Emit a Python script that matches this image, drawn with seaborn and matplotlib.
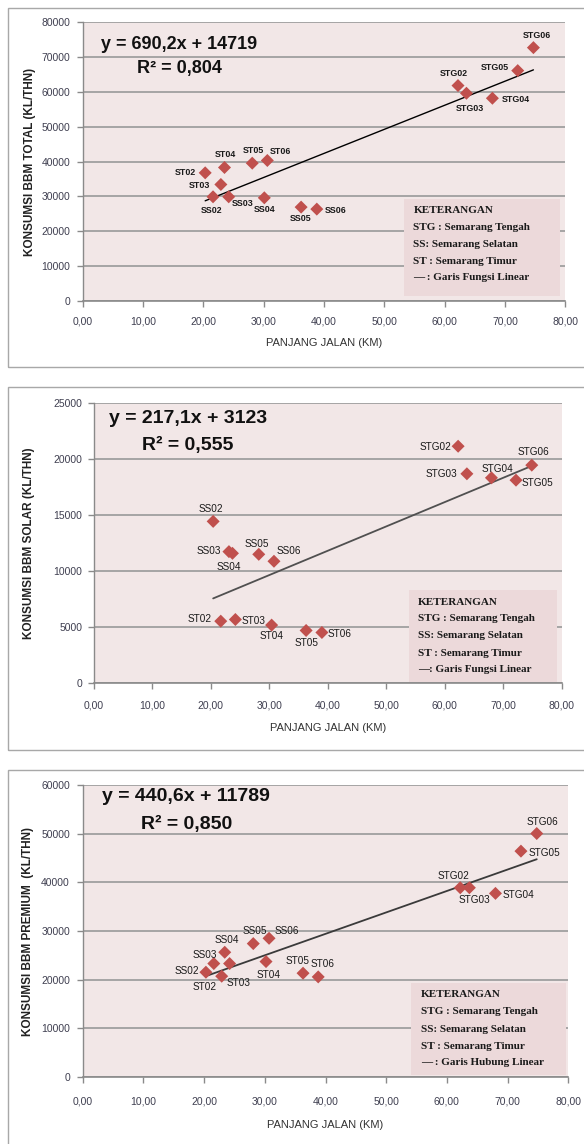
import matplotlib
matplotlib.use("Agg")
import matplotlib.pyplot as plt
from matplotlib import font_manager
from matplotlib.patches import Rectangle
from matplotlib.ticker import FuncFormatter, MultipleLocator
import seaborn as sns
import pandas as pd

# ---------------- data ----------------
# Panel 1: KONSUMSI BBM TOTAL
total_labels = ["ST02", "SS02", "ST03", "ST04", "SS03", "ST05", "SS04", "ST06",
                "SS05", "SS06", "STG02", "STG03", "STG04", "STG05", "STG06"]
total_x = [20.3, 21.6, 22.9, 23.5, 24.2, 28.1, 30.1, 30.6, 36.2, 38.8,
           62.2, 63.6, 67.9, 72.1, 74.7]
total_y = [36750, 29880, 33410, 38280, 29880, 39520, 29590, 40290, 26920, 26350,
           61770, 59570, 58140, 66060, 72650]
total_fit = (690.2, 14719, "0,804")

# Panel 2: KONSUMSI BBM SOLAR
solar_labels = ["SS02", "ST02", "SS03", "SS04", "ST03", "SS05", "ST04", "SS06",
                "ST05", "ST06", "STG02", "STG03", "STG04", "STG05", "STG06"]
solar_x = [20.4, 21.7, 23.1, 23.7, 24.2, 28.2, 30.4, 30.8, 36.3, 39.0,
           62.3, 63.8, 68.0, 72.2, 74.9]
solar_y = [14430, 5520, 11730, 11580, 5670, 11490, 5170, 10870, 4690, 4510,
           21140, 18680, 18320, 18110, 19450]
solar_fit = (217.1, 3123, "0,555")

# Panel 3: KONSUMSI BBM PREMIUM
premium_labels = ["SS02", "SS03", "ST02", "SS04", "ST03", "SS05", "ST04", "SS06",
                  "ST05", "ST06", "STG02", "STG03", "STG04", "STG05", "STG06"]
premium_x = [20.3, 21.6, 22.9, 23.4, 24.2, 28.1, 30.2, 30.7, 36.3, 38.8,
             62.2, 63.7, 68.0, 72.2, 74.8]
premium_y = [21530, 23310, 20710, 25630, 23310, 27410, 23720, 28500, 21330, 20570,
             38890, 38890, 37730, 46410, 50030]
premium_fit = (440.6, 11789, "0,850")

y_titles = ["KONSUMSI BBM TOTAL (KL/THN)", "KONSUMSI BBM SOLAR (KL/THN)",
            "KONSUMSI BBM PREMIUM  (KL/THN)"]
x_title = "PANJANG JALAN (KM)"
y_max = [80000, 25000, 60000]
y_step = [10000, 5000, 10000]
legend_lines = [
    ["KETERANGAN", "STG : Semarang Tengah", "SS: Semarang Selatan",
     "ST : Semarang Timur", "— : Garis Fungsi Linear"],
    ["KETERANGAN", "STG : Semarang Tengah", "SS: Semarang Selatan",
     "ST : Semarang Timur", "—: Garis Fungsi Linear"],
    ["KETERANGAN", "STG : Semarang Tengah", "SS: Semarang Selatan",
     "ST : Semarang Timur", "— : Garis Hubung Linear"],
]

# ---------------- label placement (offsets in pixels) ----------------
off1 = {"STG06": (3, 12), "STG05": (-23, 3), "STG02": (-4, 12), "STG04": (23, -1),
        "STG03": (3, -15), "ST04": (1, 13), "ST05": (1, 13), "ST06": (13, 9),
        "ST02": (-20, 0), "ST03": (-21, -1), "SS02": (-1, -14), "SS03": (14, -7),
        "SS04": (0, -12), "SS05": (-1, -11), "SS06": (19, -1)}
off2 = {"STG02": (-23, -1), "STG06": (2, 13), "STG03": (-25, 0), "STG04": (6, 9),
        "STG05": (21, -3), "SS02": (-2, 12), "SS03": (-20, 1), "SS04": (-4, -14),
        "SS05": (-2, 10), "SS06": (15, 10), "ST02": (-21, 2), "ST03": (18, -2),
        "ST04": (0, -11), "ST05": (0, -13), "ST06": (18, -2)}
off3 = {"STG06": (6, 12), "STG05": (23, -2), "STG02": (-7, 12), "STG03": (5, -12),
        "STG04": (23, -2), "SS06": (18, 7), "SS05": (2, 13), "SS04": (2, 12),
        "SS03": (-9, 9), "SS02": (-19, 1), "ST02": (-17, -11), "ST03": (9, -19),
        "ST04": (3, -13), "ST05": (-5, 12), "ST06": (4, 13)}

# ---------------- style ----------------
sns.set_theme(style="ticks")
plt.rcParams["font.family"] = ["Liberation Sans", "DejaVu Sans"]

names = {f.name for f in font_manager.fontManager.ttflist}
if "Liberation Sans Narrow" in names:
    lab_font, lab_size = "Liberation Sans Narrow", 8.6
else:
    lab_font, lab_size = "Liberation Sans", 7.2

W, H = 584, 1144
fig = plt.figure(figsize=(W / 100, H / 100), dpi=100)
fig.patch.set_facecolor("white")

plot_bg = "#f2e7e7"
legend_bg = "#ecd9da"
marker_col = "#c0504d"
tick_col = "#3f3f50"
grid_col = "#a0a0a0"

# axes rectangles in pixels: left, right, top, bottom
ax_px = [(82.7, 565.4, 22, 301), (93.9, 561.6, 403, 683), (82.7, 568.3, 785, 1077)]
frames = [(7.8, 8, 367), (7.8, 387, 750), (7.8, 770, 1160)]
ylab_x = [-0.110, -0.139, -0.113]
xlab_y = [-0.151, -0.161, -0.164]
xpad = [6.8, 8.3, 9.7]
ypad = [4.8, 4.3, 5.2]
eq_pos = [((0.037, 0.921), (0.112, 0.835)), ((0.032, 0.943), (0.103, 0.850)),
          ((0.039, 0.959), (0.120, 0.866))]
eq_size = [13, 14, 14]
leg_box = [(0.666, 0.988, 0.018, 0.366), (0.674, 0.990, 0.004, 0.332),
           (0.676, 0.995, 0.007, 0.322)]
leg_tx = [0.685, 0.693, 0.696]
leg_ty = [[0.323, 0.262, 0.204, 0.143, 0.086],
          [0.289, 0.229, 0.168, 0.107, 0.050],
          [0.284, 0.223, 0.164, 0.106, 0.048]]
line_style = [("#000000", 1.0), ("#505050", 1.3), ("#3a3a3a", 1.3)]

panels = [
    (total_labels, total_x, total_y, total_fit, off1),
    (solar_labels, solar_x, solar_y, solar_fit, off2),
    (premium_labels, premium_x, premium_y, premium_fit, off3),
]

for i, (labels, xs, ys, fit, offs) in enumerate(panels):
    # outer frame
    fx, ftop, fbot = frames[i]
    fig.add_artist(Rectangle((fx / W, 1 - fbot / H), (W + 20 - fx) / W, (fbot - ftop) / H,
                             transform=fig.transFigure, fill=False,
                             edgecolor="#a8a8a8", lw=1.0))
    l, r, t, b = ax_px[i]
    ax = fig.add_axes([l / W, 1 - b / H, (r - l) / W, (b - t) / H])
    ax.set_facecolor(plot_bg)
    df = pd.DataFrame({"x": xs, "y": ys, "label": labels})

    # trend line from the regression equation
    slope, intercept, r2 = fit
    xline = [min(xs), max(xs)]
    yline = [slope * v + intercept for v in xline]
    col, lw = line_style[i]
    sns.lineplot(x=xline, y=yline, ax=ax, color=col, lw=lw, zorder=4)

    sns.scatterplot(data=df, x="x", y="y", ax=ax, marker="D", s=44,
                    color=marker_col, edgecolor="none", linewidth=0, zorder=5)

    for lab, xv, yv in zip(labels, xs, ys):
        dx, dy = offs[lab]
        if i == 0:
            ax.annotate(lab, (xv, yv), xytext=(dx, dy), textcoords="offset pixels",
                        ha="center", va="center", fontsize=6.4, fontweight="bold",
                        color="#1a1a1a", family="Liberation Sans", zorder=6)
        else:
            ax.annotate(lab, (xv, yv), xytext=(dx, dy), textcoords="offset pixels",
                        ha="center", va="center", fontsize=lab_size,
                        color="#1a1a1a", family=lab_font, zorder=6)

    ax.set_xlim(0, 80)
    ax.set_ylim(0, y_max[i])
    ax.xaxis.set_major_locator(MultipleLocator(10))
    ax.yaxis.set_major_locator(MultipleLocator(y_step[i]))
    ax.xaxis.set_major_formatter(FuncFormatter(lambda v, p: f"{v:.2f}".replace(".", ",")))
    ax.yaxis.set_major_formatter(FuncFormatter(lambda v, p: f"{int(v)}"))
    ax.set_axisbelow(True)
    ax.yaxis.grid(True, color=grid_col, lw=1.3)
    ax.xaxis.grid(False)
    for s in ["top", "right"]:
        ax.spines[s].set_visible(False)
    ax.spines["left"].set_color("#8a8a8a")
    ax.spines["bottom"].set_color("#8a8a8a")
    ax.spines["left"].set_linewidth(1.0)
    ax.spines["bottom"].set_linewidth(1.2)
    ax.tick_params(axis="x", direction="out", length=4, width=1, color="#8a8a8a",
                   pad=xpad[i], labelsize=7.5, labelcolor=tick_col)
    ax.tick_params(axis="y", direction="out", length=4, width=1, color="#8a8a8a",
                   pad=ypad[i], labelsize=7.5, labelcolor=tick_col)

    ax.set_xlabel(x_title, fontsize=8, color="#333333")
    ax.xaxis.set_label_coords(0.5, xlab_y[i])
    ax.xaxis.label.set_va("center")
    ax.set_ylabel(y_titles[i], fontsize=8.5, fontweight="bold", color="#222222")
    ax.yaxis.set_label_coords(ylab_x[i], 0.5)
    ax.yaxis.label.set_va("center")

    # equation
    (ex, ey), (rx, ry) = eq_pos[i]
    ax.text(ex, ey, f"y = {str(slope).replace('.', ',')}x + {intercept}",
            transform=ax.transAxes, ha="left", va="center", fontsize=eq_size[i],
            fontweight="bold", color="#111111", zorder=7)
    ax.text(rx, ry, f"R² = {r2}", transform=ax.transAxes, ha="left", va="center",
            fontsize=eq_size[i], fontweight="bold", color="#111111", zorder=7)

    # legend box
    x0, x1, y0, y1 = leg_box[i]
    ax.add_patch(Rectangle((x0, y0), x1 - x0, y1 - y0, transform=ax.transAxes,
                           facecolor=legend_bg, edgecolor="none", zorder=3))
    for txt, ty in zip(legend_lines[i], leg_ty[i]):
        ax.text(leg_tx[i], ty, txt, transform=ax.transAxes, ha="left", va="center",
                fontsize=8, fontweight="bold", family=["Liberation Serif", "DejaVu Serif"],
                color="#1a1a1a", zorder=7)

fig.savefig("out.png", dpi=100, facecolor="white")
